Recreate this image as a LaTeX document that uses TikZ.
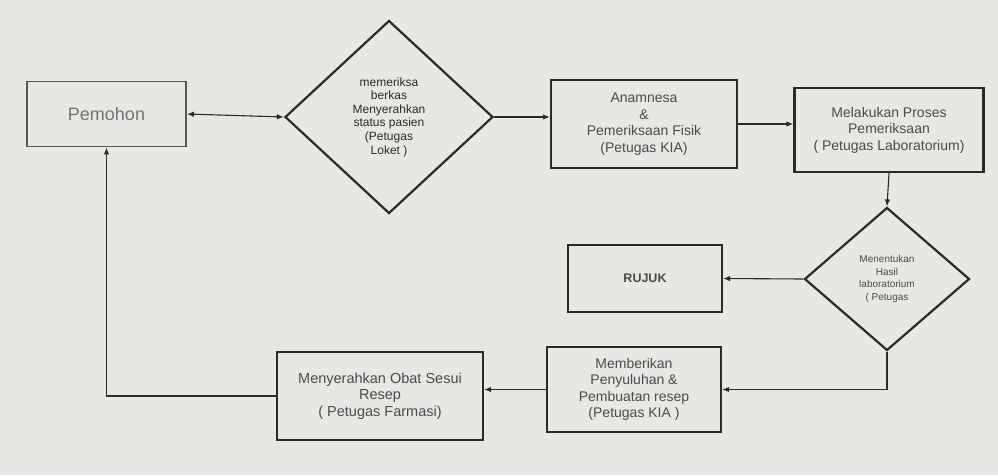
\documentclass[tikz,border=0pt]{standalone}
\usepackage{fontspec}
\setmainfont{Liberation Sans}
\usetikzlibrary{shapes.geometric,arrows.meta}
\definecolor{bg}{HTML}{E7E8E4}
\definecolor{txt}{HTML}{4A4A4A}
\definecolor{ln}{HTML}{2A2A2A}
\tikzset{
  x=1pt,y=-1pt,
  procbox/.style={draw=ln,line width=2.2pt,rectangle,inner sep=2pt,align=center,
    text=txt,font=\fontsize{14}{16.5}\selectfont},
  decbox/.style={draw=ln,line width=2.2pt,diamond,inner sep=0pt,align=center,text=ln},
  conn/.style={draw=ln,line width=1.1pt,-{Latex[length=7pt,width=5.5pt]}},
}
\begin{document}
\begin{tikzpicture}
\fill[bg] (0,0) rectangle (998,475);
\useasboundingbox (0,0) rectangle (998,475);

\node[procbox,draw=ln!80,line width=1.8pt,minimum width=159pt,minimum height=65pt,
  text=black!55,font=\fontsize{18}{20}\selectfont] (pem) at (106.5,114) {Pemohon};

\node[decbox,minimum width=208pt,minimum height=193pt,
  font=\fontsize{12}{13.6}\selectfont] (d1) at (389,117)
  {memeriksa\\berkas\\Menyerahkan\\status pasien\\(Petugas\\Loket )};

\node[procbox,minimum width=186pt,minimum height=88pt] (ana) at (644,124)
  {Anamnesa\\\&\\Pemeriksaan Fisik\\(Petugas KIA)};

\node[procbox,minimum width=189pt,minimum height=84pt] (lab) at (889,130)
  {Melakukan Proses\\Pemeriksaan\\( Petugas Laboratorium)};

\node[decbox,minimum width=165pt,minimum height=143pt,
  font=\fontsize{10}{12.6}\selectfont,text=txt] (d2) at (887,279)
  {Menentukan\\Hasil\\laboratorium\\( Petugas};

\node[procbox,minimum width=154pt,minimum height=67pt,
  font=\bfseries\fontsize{12.5}{14}\selectfont] (rujuk) at (645,278.5) {RUJUK};

\node[procbox,minimum width=174pt,minimum height=85pt] (memb) at (634,389.5)
  {Memberikan\\Penyuluhan \&\\Pembuatan resep\\(Petugas KIA )};

\node[procbox,minimum width=206pt,minimum height=88pt,
  font=\fontsize{14.5}{16.7}\selectfont] (meny) at (380,396)
  {Menyerahkan Obat Sesui\\Resep\\( Petugas Farmasi)};

\draw[conn,{Latex[length=7pt,width=5.5pt]}-{Latex[length=7pt,width=5.5pt]}] (pem.east) -- (d1.west);
\draw[conn] (d1.east) -- (d1.east -| ana.west);
\draw[conn] (ana.east) -- (ana.east -| lab.west);
\draw[conn] (lab.south) -- (d2.north);
\draw[conn] (d2.west) -- (rujuk.east);
\draw[conn] (d2.south) |- (memb.east);
\draw[conn] (memb.west) -- (memb.west -| meny.east);
\draw[conn] (meny.west) -| (pem.south);
\end{tikzpicture}
\end{document}
